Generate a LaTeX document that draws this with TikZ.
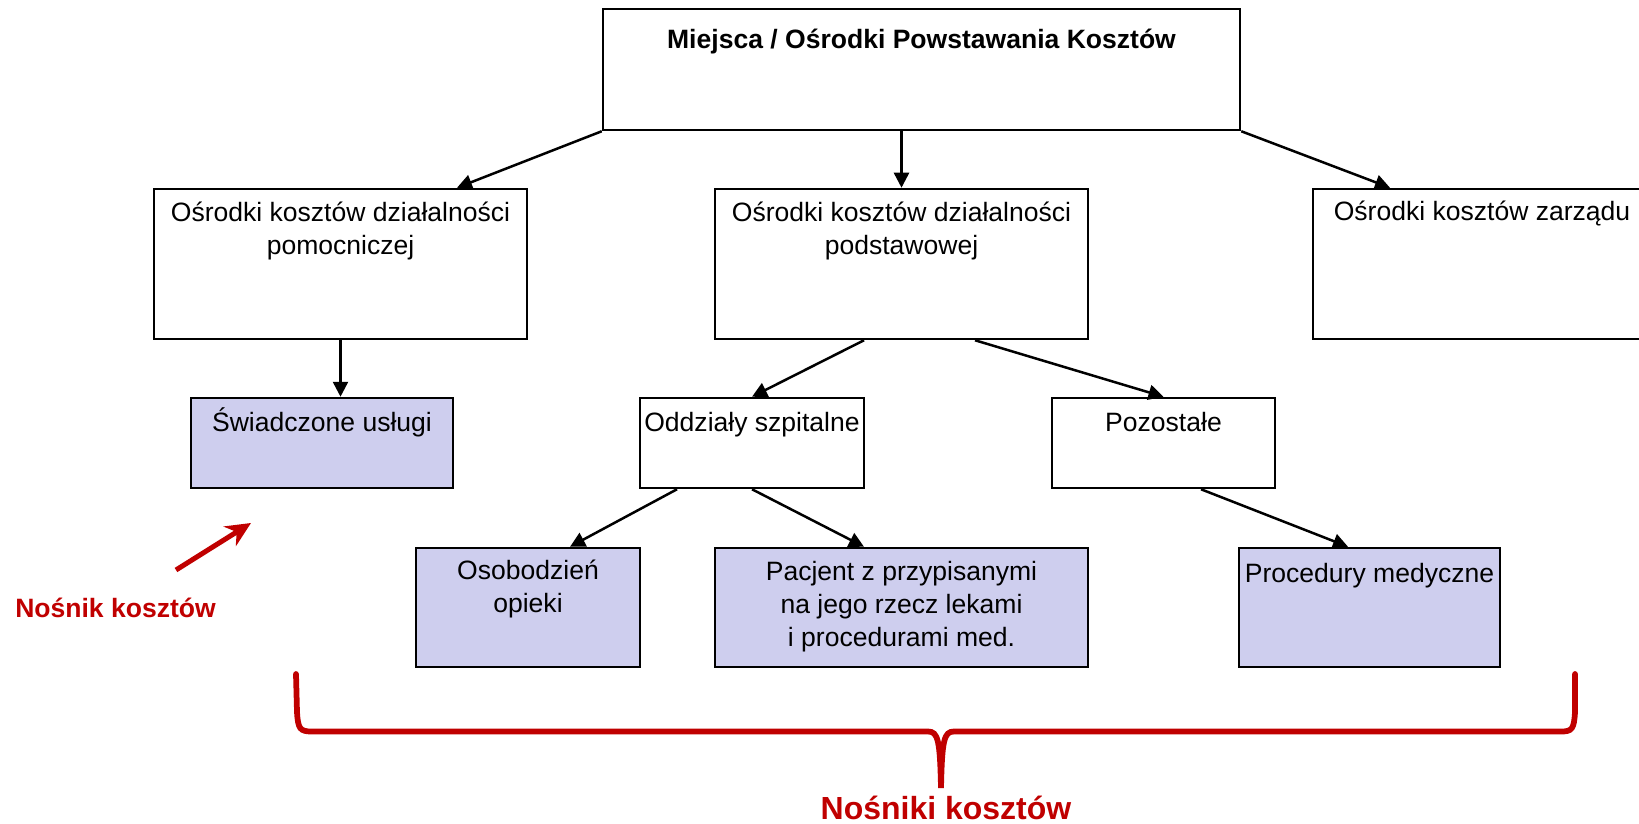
\documentclass[tikz,border=0pt]{standalone}
\usepackage{fontspec}
\setmainfont{Liberation Sans}
\usetikzlibrary{positioning,arrows.meta}
\definecolor{nosnik}{RGB}{206,206,238}
\definecolor{czerw}{RGB}{192,0,0}
\begin{document}
\begin{tikzpicture}[x=0.2mm,y=-0.2mm,line join=miter,line width=0.5mm,
    >={Triangle[length=3mm,width=3mm]}]
\tikzset{every node/.style={font=\fontsize{15.1}{18.8}\selectfont},
  box/.style={draw, inner sep=0pt},
  carrier/.style={box, fill=nosnik},
  txt/.style={inner sep=0pt, align=center, execute at begin node={\rule{0pt}{1em}}},
  red label/.style={text=czerw, inner sep=0pt, font=\bfseries\fontsize{#1}{#1}\selectfont}}
\useasboundingbox (0,0) rectangle (1639,824);
\clip (0,0) rectangle (1639,824);
% level 1
\node[box, minimum width=127.4mm, minimum height=24.2mm] (top) at (921.5,69.5) {};
\node[txt, font=\bfseries\fontsize{15.1}{18.8}\selectfont, below=2.6mm of top.north] (toptxt)
  {Miejsca / Ośrodki Powstawania Kosztów};
% level 2
\node[box, minimum width=74.6mm, minimum height=30mm] (aux) at (340.5,264) {};
\node[box, minimum width=74.6mm, minimum height=30mm] (basic) at (901.5,264) {};
\node[box, minimum width=67.6mm, minimum height=30mm] (mgmt) at (1482,264) {};
\node[txt, below=2.5mm of aux.north] (auxtxt) {Ośrodki kosztów działalności\\pomocniczej};
\node[txt, below=2.5mm of basic.north] (basictxt) {Ośrodki kosztów działalności\\podstawowej};
\node[txt, below=1mm of mgmt.north] (mgmttxt) {Ośrodki kosztów zarządu};
% level 3
\node[carrier, minimum width=52.4mm, minimum height=18mm] (services) at (322,443) {};
\node[box, minimum width=44.8mm, minimum height=18mm] (wards) at (752,443) {};
\node[box, minimum width=44.6mm, minimum height=18mm] (other) at (1163.5,443) {};
\node[txt, below=1.3mm of services.north] (servicestxt) {Świadczone usługi};
\node[txt, below=1.3mm of wards.north] (wardstxt) {Oddziały szpitalne};
\node[txt, below=1.3mm of other.north] (othertxt) {Pozostałe};
% level 4
\node[carrier, minimum width=44.8mm, minimum height=23.8mm] (days) at (528,607.5) {};
\node[carrier, minimum width=74.6mm, minimum height=23.8mm] (patient) at (901.5,607.5) {};
\node[carrier, minimum width=52.2mm, minimum height=23.8mm] (procs) at (1369.5,607.5) {};
\node[txt, below=2.4mm of days.north] (daystxt) {Osobodzień\\opieki};
\node[txt, below=2.7mm of patient.north] (patienttxt)
  {Pacjent z przypisanymi\\na jego rzecz lekami\\ i procedurami med.};
\node[txt, below=1.6mm of procs.north] (procstxt) {Procedury medyczne};
% connectors
\draw[->] (top.south west) -- ([xshift=23.3mm]aux.north);
\draw[->] (basic.north |- top.south) -- (basic.north);
\draw[->] (top.south east) -- ([xshift=-18.4mm]mgmt.north);
\draw[->] (aux.south) -- (aux.south |- services.north);
\draw[->] ([xshift=-7.5mm]basic.south) -- (wards.north);
\draw[->] ([xshift=14.7mm]basic.south) -- (other.north);
\draw[->] ([xshift=-15mm]wards.south) -- ([xshift=8.4mm]days.north);
\draw[->] (wards.south) -- ([xshift=-7.5mm]patient.north);
\draw[->] ([xshift=7.5mm]other.south) -- ([xshift=-4.3mm]procs.north);
% cost carriers
\node[red label=15.1, anchor=west] (single) at (14,608) {Nośnik kosztów};
\coordinate (ptrfrom) at (176,570);
\coordinate (ptrto) at (251,523);
\draw[czerw, line width=1mm, -{Stealth[length=5mm,width=4.6mm]}] (ptrfrom) -- (ptrto);
\draw[czerw, line width=1.15mm, line cap=round]
  (296,674) -- (297,712) .. controls (298,729) and (300,731.5) .. (312,731.5) -- (928,731.5)
  .. controls (938,731.5) and (940,740) .. (941,788)
  .. controls (942,740) and (944,731.5) .. (954,731.5) -- (1561,731.5)
  .. controls (1572,731.5) and (1574,729) .. (1575,712) -- (1575,674);
\node[red label=18.2] (all) at (946,808) {Nośniki kosztów};
\end{tikzpicture}
\end{document}
